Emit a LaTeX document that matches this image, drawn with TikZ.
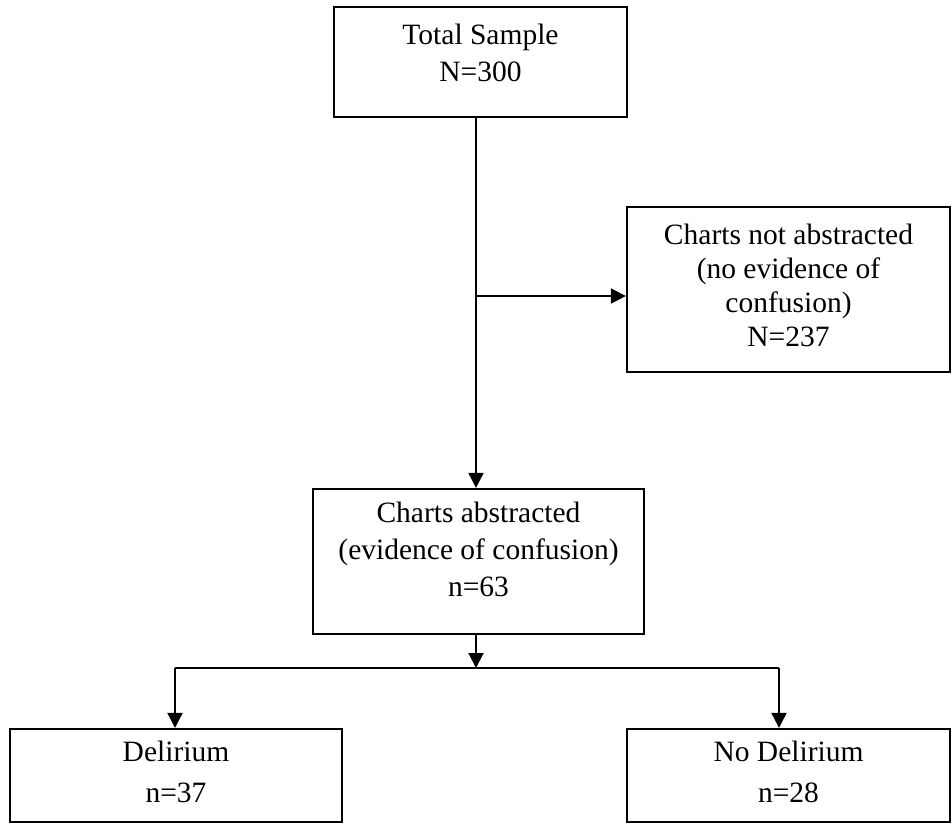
\documentclass[tikz,border=0pt]{standalone}
\usepackage{fontspec}
\setmainfont{Liberation Serif}
\usetikzlibrary{arrows.meta}
\newcommand{\boxtext}[3]{\raisebox{#1}[\height][\depth]{\fontsize{29.5}{#2}\selectfont\begin{tabular}{@{}c@{}}#3\end{tabular}}}
\begin{document}
\begin{tikzpicture}[x=1pt,y=-1pt,
  flowbox/.style={draw=black, line width=2.3pt, rectangle, inner sep=0pt, fill=white},
  conn/.style={draw=black, line width=2pt},
  arr/.style={conn, -{Triangle[length=15pt,width=15pt]}}]
\useasboundingbox (0,0) rectangle (952,823);
\node[flowbox, minimum width=293pt, minimum height=110pt] (TS) at (480.5,62)
  {\boxtext{6.5pt}{37pt}{Total Sample\\N=300}};
\node[flowbox, minimum width=323pt, minimum height=165pt] (CNA) at (788.5,289.5)
  {\boxtext{1pt}{34pt}{Charts not abstracted\\(no evidence of\\confusion)\\N=237}};
\node[flowbox, minimum width=331pt, minimum height=145pt] (CA) at (478.5,561.5)
  {\boxtext{9pt}{37pt}{Charts abstracted\\(evidence of confusion)\\n=63}};
\node[flowbox, minimum width=332pt, minimum height=93pt] (Del) at (176,775.5)
  {\boxtext{1.7pt}{41pt}{Delirium\\n=37}};
\node[flowbox, minimum width=323pt, minimum height=93pt] (ND) at (788.5,775.5)
  {\boxtext{1.7pt}{41pt}{No Delirium\\n=28}};
\coordinate (split) at (476,296);
\coordinate (join) at (476,668);
\coordinate (jl) at (175,668);
\coordinate (jr) at (779,668);
\draw[arr] (TS.south -| split) -- (CA.north -| split);
\draw[arr] (split) -- (CNA.west |- split);
\draw[arr] (CA.south -| join) -- (join);
\draw[conn] (jl) -- (jr);
\draw[arr] (jl) -- (Del.north -| jl);
\draw[arr] (jr) -- (ND.north -| jr);
\end{tikzpicture}
\end{document}
